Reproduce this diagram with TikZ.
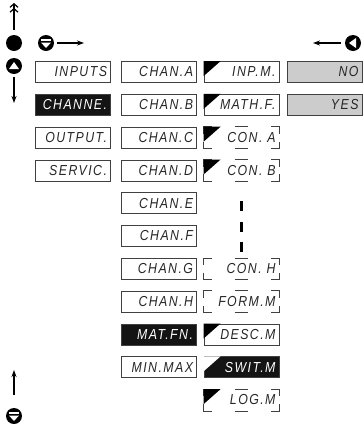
\documentclass[tikz,border=0pt]{standalone}
\usepackage{fontspec}
\setmainfont{Liberation Sans}
\newfontfamily\segfont[LetterSpace=10,FakeStretch=0.85]{Liberation Sans}
\usetikzlibrary{arrows.meta}
\newcommand\segframe[1]{%
  \draw[segline] ([yshift=-7pt]#1.north west) -- (#1.north west) -- ++(8,0);
  \draw[segline] ([xshift=-7pt]#1.north) -- ++(13,0);
  \draw[segline] ([xshift=-8pt]#1.north east) -- (#1.north east) -- ++(0,7);
  \draw[segline] ([yshift=7pt]#1.south west) -- (#1.south west) -- ++(8,0);
  \draw[segline] ([xshift=-7pt]#1.south) -- ++(13,0);
  \draw[segline] ([xshift=-8pt]#1.south east) -- (#1.south east) -- ++(0,-7);
}
\newcommand\cornertri[2]{%
  \fill[#2] (#1.north west) -- ++(17,0) -- ++(-17,15) -- cycle;
}
\begin{document}
\begin{tikzpicture}[x=1pt,y=-1pt,
  cell/.style={draw=black!75, line width=0.8pt, minimum width=75pt, minimum height=21pt,
    inner sep=0pt, text width=68pt, align=right, text=black!85,
    font=\segfont\itshape\fontsize{14.5}{14.5}\selectfont},
  invcell/.style={cell, fill=black!92, text=white},
  graycell/.style={cell, fill=black!20},
  opencell/.style={cell, draw=none},
  segline/.style={draw=black!75, line width=0.8pt},
  key/.style={circle, fill=black, minimum size=16pt, inner sep=0pt},
  arr/.style={line width=1.1pt, -{Stealth[length=7pt,width=5pt]}},
  vdash/.style={line width=2.5pt, dash pattern=on 10pt off 10.5pt}]
\useasboundingbox (0,0) rectangle (363,424);

% column 1
\node[cell]    (c1a) at (73,72)    {INPUTS};
\node[invcell] (c1b) at (73,104.8) {CHANNE.};
\node[cell]    (c1c) at (73,137.6) {OUTPUT.};
\node[cell]    (c1d) at (73,170.4) {SERVIC.};

% column 2
\node[cell]    (c2a) at (159,72)    {CHAN.A};
\node[cell]    (c2b) at (159,104.8) {CHAN.B};
\node[cell]    (c2c) at (159,137.6) {CHAN.C};
\node[cell]    (c2d) at (159,170.4) {CHAN.D};
\node[cell]    (c2e) at (159,203.2) {CHAN.E};
\node[cell]    (c2f) at (159,236)   {CHAN.F};
\node[cell]    (c2g) at (159,268.8) {CHAN.G};
\node[cell]    (c2h) at (159,301.6) {CHAN.H};
\node[invcell] (c2i) at (159,334.4) {MAT.FN.};
\node[cell]    (c2j) at (159,367.2) {MIN.MAX};

% column 3
\node[cell]     (c3a) at (241.5,72)    {INP.M.};
\node[cell]     (c3b) at (241.5,104.8) {MATH.F.};
\node[opencell] (c3c) at (241.5,137.6) {CON. A};
\node[opencell] (c3d) at (241.5,170.4) {CON. B};
\node[opencell] (c3h) at (241.5,268.8) {CON. H};
\node[opencell] (c3i) at (241.5,301.6) {FORM.M};
\node[cell]     (c3j) at (241.5,334.4) {DESC.M};
\node[invcell]  (c3k) at (241.5,367.2) {SWIT.M};
\node[opencell] (c3l) at (241.5,400)   {LOG.M};
\segframe{c3c}\segframe{c3d}\segframe{c3h}\segframe{c3i}\segframe{c3l}
\cornertri{c3a}{black}\cornertri{c3b}{black}\cornertri{c3c}{black}
\cornertri{c3d}{black}\cornertri{c3j}{black}\cornertri{c3k}{white}
\cornertri{c3l}{black}
\draw[vdash] ([yshift=-20pt]c3d.south) -- ([yshift=6pt]c3h.north);

% column 4
\node[graycell] (c4a) at (324.5,72)    {NO};
\node[graycell] (c4b) at (324.5,104.8) {YES};

% keys and arrows, left top
\coordinate (ua0) at (14,30);
\coordinate (ua1) at (14,3);
\draw[line width=1.2pt, -{Straight Barb[length=3.5pt,width=8pt] Straight Barb[length=3.5pt,width=8pt]}] (ua0) -- (ua1);
\node[key] (dot) at (14,43) {};
\node[key] (kdown) at (46,43) {};
\fill[white] ([shift={(-5,-4)}]kdown.center) rectangle ([shift={(5,-2)}]kdown.center);
\fill[white] ([shift={(-5,-0.5)}]kdown.center) -- ([shift={(5,-0.5)}]kdown.center) -- ([shift={(0,5)}]kdown.center) -- cycle;
\coordinate (rarr) at (84,43);
\draw[arr] ([xshift=3pt]kdown.east) -- (rarr);
\node[key] (kup) at (14,66) {};
\fill[white] ([shift={(-5,3)}]kup.center) -- ([shift={(5,3)}]kup.center) -- ([shift={(0,-4)}]kup.center) -- cycle;
\coordinate (darr) at (14,103);
\draw[arr] ([yshift=-3pt]kup.south) -- (darr);

% right top
\node[key] (kleft) at (353,43) {};
\fill[white] ([shift={(3,-5)}]kleft.center) -- ([shift={(3,5)}]kleft.center) -- ([shift={(-4,0)}]kleft.center) -- cycle;
\coordinate (larr) at (313,43);
\draw[arr] ([xshift=-4pt]kleft.west) -- (larr);

% bottom left
\node[key] (kdown2) at (14,416) {};
\fill[white] ([shift={(-5,-4)}]kdown2.center) rectangle ([shift={(5,-2)}]kdown2.center);
\fill[white] ([shift={(-5,-0.5)}]kdown2.center) -- ([shift={(5,-0.5)}]kdown2.center) -- ([shift={(0,5)}]kdown2.center) -- cycle;
\coordinate (uarr) at (14,370);
\draw[arr] ([yshift=13pt]kdown2.north) -- (uarr);
\end{tikzpicture}
\end{document}
